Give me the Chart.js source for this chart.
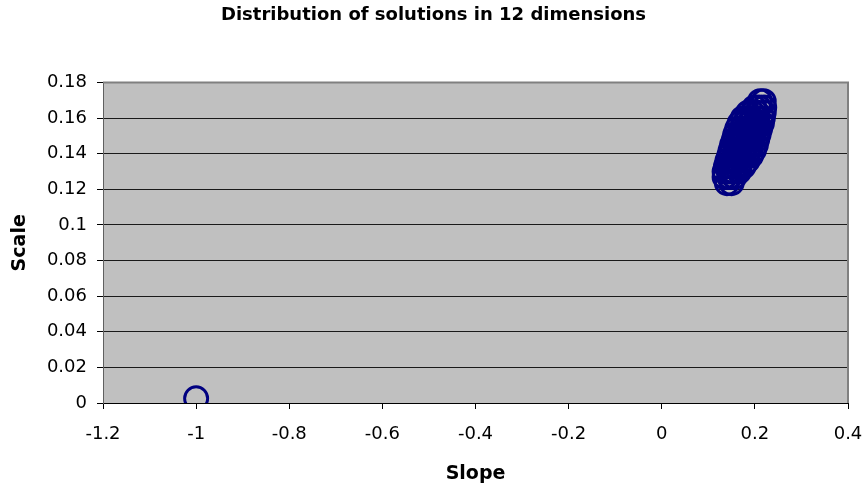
<!DOCTYPE html>
<html>
<head>
<meta charset="utf-8">
<title>Distribution of solutions in 12 dimensions</title>
<script src="https://cdn.jsdelivr.net/npm/chart.js@4.4.1/dist/chart.umd.min.js"></script>
<style>
  html, body { margin: 0; padding: 0; background: #fff; }
  #wrap { width: 867px; height: 490px; position: relative; }
</style>
</head>
<body>
<div id="wrap"><canvas id="chart"></canvas></div>
<script>
// solutions: slope (x) and scale (y)
const slopes = [
  -1.0,
  0.211, 0.219,
  0.199, 0.209, 0.220,
  0.185, 0.195, 0.205, 0.219,
  0.174, 0.184, 0.194, 0.204, 0.217,
  0.167, 0.177, 0.187, 0.197, 0.207, 0.215,
  0.162, 0.172, 0.182, 0.192, 0.202, 0.211,
  0.158, 0.168, 0.178, 0.188, 0.198, 0.208,
  0.155, 0.165, 0.175, 0.185, 0.195, 0.205,
  0.151, 0.161, 0.171, 0.181, 0.191, 0.202,
  0.148, 0.158, 0.168, 0.178, 0.188, 0.198,
  0.145, 0.155, 0.165, 0.175, 0.185, 0.192,
  0.141, 0.151, 0.161, 0.171, 0.184,
  0.138, 0.148, 0.158, 0.167, 0.176,
  0.135, 0.145, 0.155, 0.166,
  0.135, 0.145, 0.156,
  0.140, 0.150
];
const scales = [
  0.0026,
  0.1695, 0.1695,
  0.166, 0.166, 0.166,
  0.163, 0.163, 0.163, 0.163,
  0.160, 0.160, 0.160, 0.160, 0.160,
  0.157, 0.157, 0.157, 0.157, 0.157, 0.157,
  0.154, 0.154, 0.154, 0.154, 0.154, 0.154,
  0.151, 0.151, 0.151, 0.151, 0.151, 0.151,
  0.148, 0.148, 0.148, 0.148, 0.148, 0.148,
  0.145, 0.145, 0.145, 0.145, 0.145, 0.145,
  0.142, 0.142, 0.142, 0.142, 0.142, 0.142,
  0.139, 0.139, 0.139, 0.139, 0.139, 0.139,
  0.136, 0.136, 0.136, 0.136, 0.136,
  0.133, 0.133, 0.133, 0.133, 0.133,
  0.130, 0.130, 0.130, 0.130,
  0.127, 0.127, 0.127,
  0.1235, 0.1235
];

const xTicks = [-1.2, -1, -0.8, -0.6, -0.4, -0.2, 0, 0.2, 0.4];
const yTicks = [0, 0.02, 0.04, 0.06, 0.08, 0.1, 0.12, 0.14, 0.16, 0.18];

Chart.defaults.font.family = "'DejaVu Sans', sans-serif";
Chart.defaults.color = "#000";

// grey plot area with a thin grey frame, like the old spreadsheet charts
const plotArea = {
  id: "plotArea",
  beforeDraw(chart) {
    const { ctx, chartArea: a } = chart;
    ctx.save();
    ctx.fillStyle = "#c0c0c0";
    ctx.fillRect(a.left, a.top, a.right - a.left, a.bottom - a.top);
    ctx.restore();
  },
  beforeDatasetsDraw(chart) {
    const { ctx, chartArea: a } = chart;
    ctx.save();
    ctx.strokeStyle = "#808080";
    ctx.lineWidth = 2;
    ctx.beginPath();
    ctx.moveTo(a.left, a.top);
    ctx.lineTo(a.right, a.top);
    ctx.lineTo(a.right, a.bottom);
    ctx.stroke();
    ctx.restore();
  }
};

const points = slopes.map((x, i) => ({ x: x, y: scales[i] }));

new Chart(document.getElementById("chart"), {
  type: "scatter",
  data: {
    datasets: [{
      data: points,
      pointStyle: "circle",
      pointRadius: 11.5,
      pointHoverRadius: 11.5,
      pointBorderWidth: 3,
      borderColor: "#000080",
      backgroundColor: "rgba(0,0,0,0)"
    }]
  },
  options: {
    responsive: true,
    maintainAspectRatio: false,
    animation: false,
    layout: { padding: 0 },
    plugins: {
      legend: { display: false },
      tooltip: { enabled: false },
      title: {
        display: true,
        text: "Distribution of solutions in 12 dimensions",
        font: { size: 18, weight: "bold" },
        padding: { top: 5, bottom: 56 }
      }
    },
    scales: {
      x: {
        type: "linear",
        min: -1.2,
        max: 0.4,
        afterBuildTicks: s => { s.ticks = xTicks.map(v => ({ value: v })); },
        afterFit: s => {
          s.height = 87;
          s.paddingLeft = 0;
          s.paddingRight = 19;
        },
        ticks: {
          font: { size: 18 },
          padding: 15,
          maxRotation: 0,
          callback: v => String(v)
        },
        grid: {
          drawOnChartArea: false,
          drawTicks: true,
          tickLength: 6,
          tickColor: "#000"
        },
        border: { color: "#000", width: 1 },
        title: {
          display: true,
          text: "Slope",
          font: { size: 19, weight: "bold" },
          padding: { top: 0, bottom: 5 }
        }
      },
      y: {
        type: "linear",
        min: 0,
        max: 0.18,
        afterBuildTicks: s => { s.ticks = yTicks.map(v => ({ value: v })); },
        afterFit: s => { s.width = 103; },
        ticks: {
          font: { size: 18 },
          padding: 10,
          callback: v => String(v)
        },
        grid: {
          color: "#1a1a1a",
          tickColor: "#000",
          tickLength: 6,
          lineWidth: 1
        },
        border: { color: "#606060", width: 1 },
        title: {
          display: true,
          text: "Scale",
          font: { size: 19, weight: "bold" },
          padding: { top: 9, bottom: 0 }
        }
      }
    }
  },
  plugins: [plotArea]
});
</script>
</body>
</html>
